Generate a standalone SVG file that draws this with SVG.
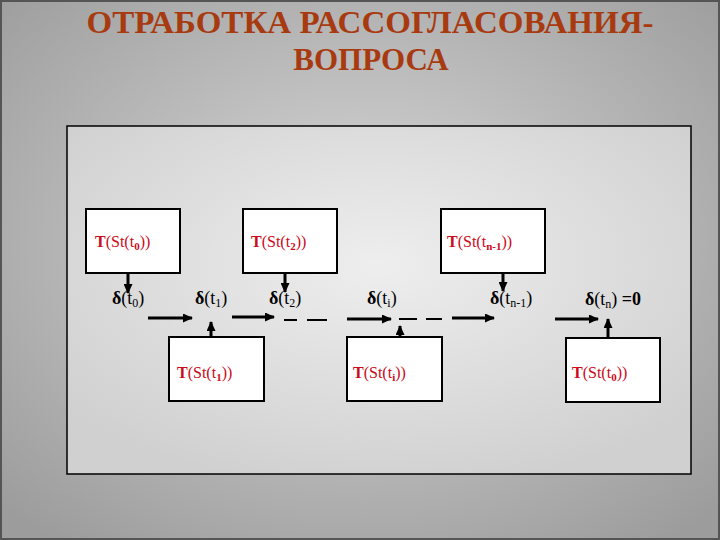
<svg xmlns="http://www.w3.org/2000/svg" width="720" height="540" viewBox="0 0 720 540">
<defs>
<radialGradient id="bg" cx="50%" cy="45%" r="70%">
<stop offset="0" stop-color="#d8d8d8"/>
<stop offset="1" stop-color="#9c9c9c"/>
</radialGradient>
<radialGradient id="pn" cx="50%" cy="40%" r="65%">
<stop offset="0" stop-color="#eeeeee"/>
<stop offset="1" stop-color="#d0d0d0"/>
</radialGradient>
<marker id="ah" markerUnits="userSpaceOnUse" markerWidth="10" markerHeight="9" refX="9" refY="4.5" orient="auto">
<path d="M0,0 L10,4.5 L0,9 Z" fill="#000"/>
</marker>
<style>
.box{fill:#fff;stroke:#000;stroke-width:2}
.arr{stroke:#000;stroke-width:3;fill:none;marker-end:url(#ah)}
.dash{stroke:#000;stroke-width:2}
.title{font-family:"Liberation Serif",serif;font-weight:bold;font-size:31px;fill:#a83a10;text-anchor:middle}
.tl{font-family:"Liberation Serif",serif;font-size:16px;fill:#cc0a1a}
.dl{font-family:"Liberation Serif",serif;font-size:18px;fill:#000}
.b{font-weight:bold}
</style>
</defs>
<rect x="0" y="0" width="720" height="540" fill="url(#bg)"/>
<rect x="1" y="1" width="718" height="538" fill="none" stroke="#555" stroke-width="2"/>
<text class="title" x="370" y="33" textLength="567" lengthAdjust="spacingAndGlyphs">ОТРАБОТКА РАССОГЛАСОВАНИЯ-</text>
<text class="title" x="371" y="70">ВОПРОСА</text>
<rect x="67" y="126" width="624" height="348" fill="url(#pn)" stroke="#000" stroke-width="1.5"/>

<g id="n1"><rect class="box" x="86" y="209" width="94" height="64"/>
<text class="tl" x="95" y="247"><tspan class="b">T</tspan>(St(t<tspan class="b" font-size="11" dy="3">0</tspan><tspan dy="-3">))</tspan></text></g>
<g id="n2"><rect class="box" x="243" y="209" width="94" height="64"/>
<text class="tl" x="251" y="247"><tspan class="b">T</tspan>(St(t<tspan class="b" font-size="11" dy="3">2</tspan><tspan dy="-3">))</tspan></text></g>
<g id="n3"><rect class="box" x="441" y="209" width="104" height="64"/>
<text class="tl" x="447" y="247"><tspan class="b">T</tspan>(St(t<tspan class="b" font-size="11" dy="3">n-1</tspan><tspan dy="-3">))</tspan></text></g>
<g id="n4"><rect class="box" x="169" y="337" width="95" height="64"/>
<text class="tl" x="177" y="378"><tspan class="b">T</tspan>(St(t<tspan class="b" font-size="11" dy="3">1</tspan><tspan dy="-3">))</tspan></text></g>
<g id="n5"><rect class="box" x="347" y="337" width="95" height="64"/>
<text class="tl" x="353" y="378"><tspan class="b">T</tspan>(St(t<tspan class="b" font-size="11" dy="3">i</tspan><tspan dy="-3">))</tspan></text></g>
<g id="n6"><rect class="box" x="566" y="338" width="94" height="64"/>
<text class="tl" x="572" y="378"><tspan class="b">T</tspan>(St(t<tspan class="b" font-size="11" dy="3">0</tspan><tspan dy="-3">))</tspan></text></g>

<g id="d0"><text class="dl" x="112" y="304"><tspan class="b">δ</tspan>(t<tspan font-size="12" dy="3">0</tspan><tspan dy="-3">)</tspan></text></g>
<g id="d1"><text class="dl" x="195" y="304"><tspan class="b">δ</tspan>(t<tspan font-size="12" dy="3">1</tspan><tspan dy="-3">)</tspan></text></g>
<g id="d2"><text class="dl" x="269" y="304"><tspan class="b">δ</tspan>(t<tspan font-size="12" dy="3">2</tspan><tspan dy="-3">)</tspan></text></g>
<g id="di"><text class="dl" x="367" y="304"><tspan class="b">δ</tspan>(t<tspan font-size="12" dy="3">i</tspan><tspan dy="-3">)</tspan></text></g>
<g id="dn1"><text class="dl" x="490" y="304"><tspan class="b">δ</tspan>(t<tspan font-size="12" dy="3">n-1</tspan><tspan dy="-3">)</tspan></text></g>
<g id="dn"><text class="dl" x="585" y="305"><tspan class="b">δ</tspan>(t<tspan font-size="12" dy="3">n</tspan><tspan dy="-3">) </tspan><tspan class="b">=0</tspan></text></g>

<g id="connectors">
<line class="arr" x1="128" y1="273" x2="128" y2="293"/>
<line class="arr" x1="285" y1="273" x2="285" y2="292"/>
<line class="arr" x1="503" y1="273" x2="503" y2="291"/>
<line class="arr" x1="211" y1="337" x2="211" y2="322"/>
<line class="arr" x1="400" y1="337" x2="400" y2="326"/>
<line class="arr" x1="608" y1="338" x2="608" y2="319"/>
<line class="arr" x1="148" y1="318" x2="192" y2="318"/>
<line class="arr" x1="232" y1="317" x2="274" y2="317"/>
<line class="arr" x1="347" y1="319" x2="391" y2="319"/>
<line class="arr" x1="452" y1="318" x2="494" y2="318"/>
<line class="arr" x1="555" y1="319" x2="598" y2="319"/>
<line class="dash" x1="284" y1="320" x2="297" y2="320"/>
<line class="dash" x1="307" y1="320" x2="327" y2="320"/>
<line class="dash" x1="399" y1="319" x2="417" y2="319"/>
<line class="dash" x1="426" y1="319" x2="442" y2="319"/>
</g>
</svg>
